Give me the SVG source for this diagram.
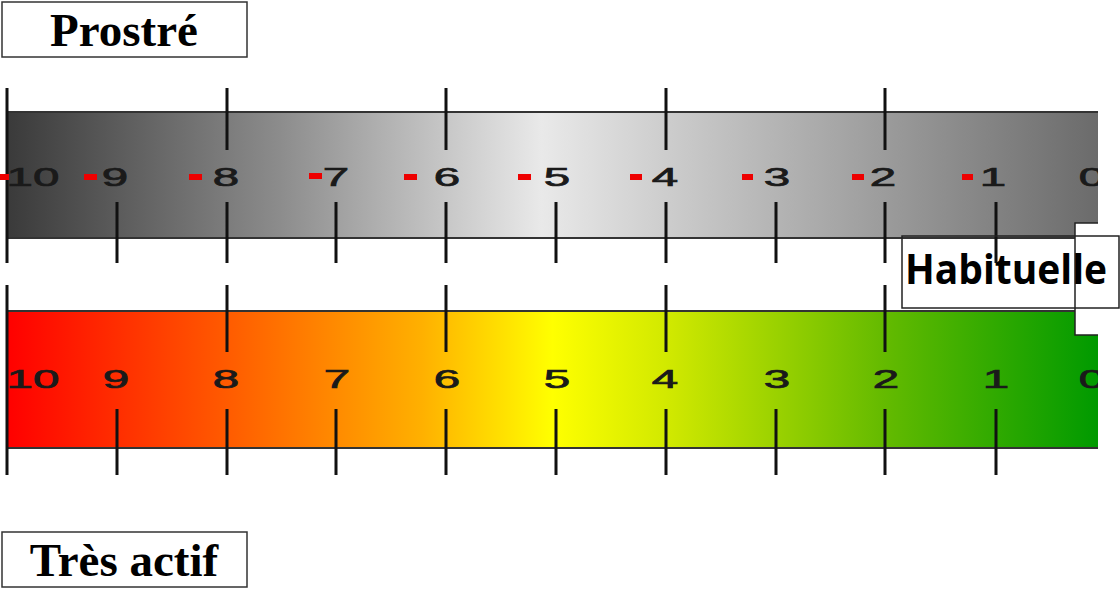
<svg xmlns="http://www.w3.org/2000/svg" width="1120" height="589" viewBox="0 0 1120 589">
<defs>
<linearGradient id="gGray" x1="0" y1="0" x2="1" y2="0">
<stop offset="0" stop-color="#3a3a3a"/>
<stop offset="0.25" stop-color="#8c8c8c"/>
<stop offset="0.49" stop-color="#e9e9e9"/>
<stop offset="0.75" stop-color="#a9a9a9"/>
<stop offset="1" stop-color="#6b6b6b"/>
</linearGradient>
<linearGradient id="gColor" x1="0" y1="0" x2="1" y2="0">
<stop offset="0" stop-color="#ff0000"/>
<stop offset="0.2" stop-color="#ff5a00"/>
<stop offset="0.38" stop-color="#ffb000"/>
<stop offset="0.5" stop-color="#ffff00"/>
<stop offset="0.61" stop-color="#cfe800"/>
<stop offset="0.8" stop-color="#66bb00"/>
<stop offset="1" stop-color="#009a00"/>
</linearGradient>
<clipPath id="clipR"><rect x="0" y="60" width="1098" height="440"/></clipPath>
<style>
.lbl{font-family:"Liberation Serif","Times New Roman",serif;font-weight:bold;font-size:47px;fill:#000;text-anchor:middle}
.box{fill:#fff;stroke:#333;stroke-width:1.5}
.num{font-family:"Liberation Sans",Arial,sans-serif;font-size:25px;fill:#1a1a1a;stroke:#1a1a1a;stroke-width:0.7;text-anchor:middle}
.tick{stroke:#111;stroke-width:3;fill:none}
.edge{stroke:#333;stroke-width:2;fill:none}
.dash{fill:#ee0000}
</style>
</defs>
<rect width="1120" height="589" fill="#fff"/>

<g id="prostre">
<rect class="box" x="2" y="2" width="245" height="55"/>
<text class="lbl" x="124" y="46">Prostré</text>
</g>

<g id="ruler-gray" clip-path="url(#clipR)">
<rect x="7" y="112" width="1091" height="126" fill="url(#gGray)"/>
<path class="edge" d="M7 112H1098M7 238H1098"/>
<path class="tick" d="M7 88V263M227 88V150M446 88V150M666 88V150M885 88V150M117 202V263M227 202V263M336 202V263M446 202V263M556 202V263M666 202V263M776 202V263M885 202V263M996 202V263"/>
<g class="dash">
<rect x="0" y="174" width="9" height="6"/>
<rect x="84" y="174" width="13" height="6"/>
<rect x="189" y="174" width="13" height="6"/>
<rect x="309" y="173" width="13" height="6"/>
<rect x="404" y="174" width="13" height="6"/>
<rect x="518" y="174" width="13" height="6"/>
<rect x="630" y="174" width="12" height="6"/>
<rect x="742" y="174" width="11" height="6"/>
<rect x="852" y="174" width="12" height="6"/>
<rect x="962" y="174" width="11" height="6"/>
</g>
<g class="num">
<text transform="translate(33 186) scale(1.9 1)">10</text>
<text transform="translate(115 186) scale(1.9 1)">9</text>
<text transform="translate(226 186) scale(1.9 1)">8</text>
<text transform="translate(336 186) scale(1.9 1)">7</text>
<text transform="translate(447 186) scale(1.9 1)">6</text>
<text transform="translate(557 186) scale(1.9 1)">5</text>
<text transform="translate(665 186) scale(1.9 1)">4</text>
<text transform="translate(777 186) scale(1.9 1)">3</text>
<text transform="translate(883 186) scale(1.9 1)">2</text>
<text transform="translate(993 186) scale(1.9 1)">1</text>
<text transform="translate(1092 186) scale(1.9 1)">0</text>
</g>
</g>

<g id="ruler-color" clip-path="url(#clipR)">
<rect x="7" y="311" width="1091" height="137" fill="url(#gColor)"/>
<path class="edge" d="M7 311H1098M7 448H1098"/>
<path class="tick" d="M7 285V475M227 285V352M446 285V352M666 285V352M885 285V352M117 409V475M227 409V475M336 409V475M446 409V475M556 409V475M666 409V475M776 409V475M885 409V475M996 409V475"/>
<g class="num">
<text transform="translate(33 388) scale(1.9 1)">10</text>
<text transform="translate(116 388) scale(1.9 1)">9</text>
<text transform="translate(226 388) scale(1.9 1)">8</text>
<text transform="translate(337 388) scale(1.9 1)">7</text>
<text transform="translate(447 388) scale(1.9 1)">6</text>
<text transform="translate(557 388) scale(1.9 1)">5</text>
<text transform="translate(665 388) scale(1.9 1)">4</text>
<text transform="translate(777 388) scale(1.9 1)">3</text>
<text transform="translate(886 388) scale(1.9 1)">2</text>
<text transform="translate(996 388) scale(1.9 1)">1</text>
<text transform="translate(1092 388) scale(1.9 1)">0</text>
</g>
</g>

<g id="cover">
<rect x="1075" y="223" width="23" height="112" fill="#fff"/>
<path d="M1098 223H1075V335H1098" fill="none" stroke="#222" stroke-width="1.5"/>
</g>

<g id="habituelle">
<rect x="902" y="236" width="217" height="72" fill="none" stroke="#222" stroke-width="1.5"/>
<text x="1006" y="284" font-family="'Open Sans',sans-serif" font-weight="bold" font-size="41" text-anchor="middle" textLength="202" lengthAdjust="spacingAndGlyphs">Habituelle</text>
</g>

<g id="tres-actif">
<rect class="box" x="2" y="532" width="245" height="55"/>
<text class="lbl" x="124" y="576">Très actif</text>
</g>
</svg>
